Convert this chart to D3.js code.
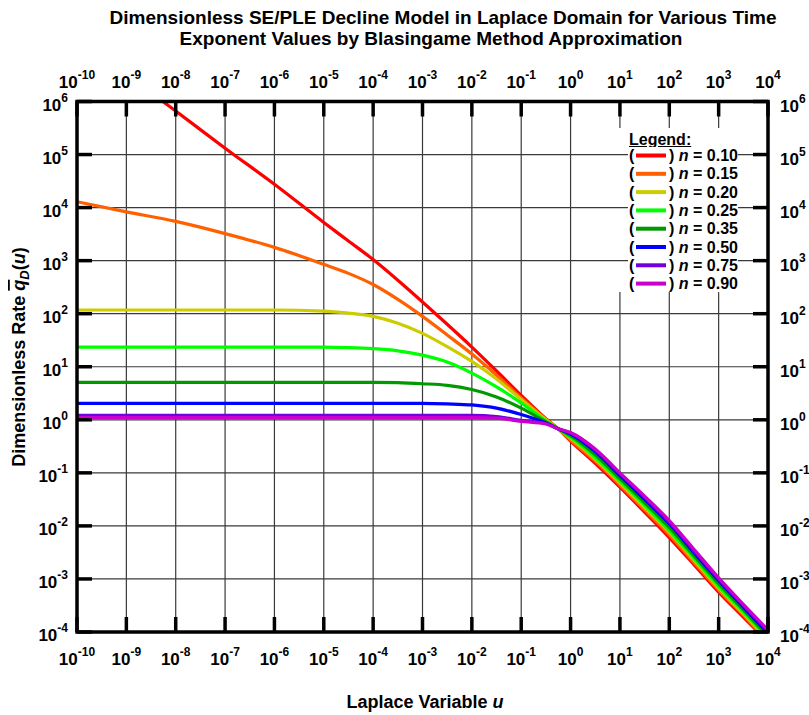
<!DOCTYPE html>
<html>
<head>
<meta charset="utf-8">
<script src="https://cdn.jsdelivr.net/npm/d3@7/dist/d3.min.js"></script>
<style>
  body { margin: 0; background: #fff; }
  text { font-family: "Liberation Sans", Arial, sans-serif; font-weight: bold; fill: #000; }
</style>
</head>
<body>
<div id="chart"></div>
<script>
// Size of the picture
var svgWidth = 809;
var svgHeight = 715;

// Plot frame
var margin = { top: 101.5, right: 41, bottom: 83, left: 77 };
var width = svgWidth - margin.left - margin.right;
var height = svgHeight - margin.top - margin.bottom;

// Decade exponents for the ticks
var xTickExp = d3.range(-10, 5);
var yTickExp = d3.range(-4, 7);

// Laplace variable u (log10) where the curves were read
var logU = [-10, -9, -8, -7, -6, -5, -4.5, -4, -3.5, -3, -2.5, -2, -1.5, -1, -0.5, -0.25, 0, 0.5, 1, 1.5, 2, 2.5, 3, 3.5, 4];
var logURed = [-8.26, -8, -7, -6, -5, -4.5, -4, -3.5, -3, -2.5, -2, -1.5, -1, -0.5, -0.25, 0, 0.5, 1, 1.5, 2, 2.5, 3, 3.5, 3.8];

// Dimensionless rate (log10) for each time exponent n
var qN010 = [6, 5.82, 5.12, 4.44, 3.72, 3.37, 3.02, 2.63, 2.22, 1.80, 1.37, 0.92, 0.46, 0.02, -0.17, -0.40, -0.82, -1.27, -1.74, -2.22, -2.73, -3.25, -3.72, -4.0];
var qN015 = [4.11, 3.92, 3.74, 3.51, 3.25, 2.93, 2.76, 2.55, 2.27, 1.95, 1.60, 1.24, 0.84, 0.41, 0.01, -0.17, -0.38, -0.78, -1.23, -1.70, -2.17, -2.69, -3.21, -3.68, -4.2];
var qN020 = [2.07, 2.07, 2.07, 2.07, 2.07, 2.05, 2.01, 1.95, 1.82, 1.63, 1.38, 1.10, 0.77, 0.38, 0.0, -0.17, -0.35, -0.74, -1.19, -1.65, -2.12, -2.64, -3.17, -3.65, -4.16];
var qN025 = [1.37, 1.37, 1.37, 1.37, 1.37, 1.37, 1.36, 1.34, 1.30, 1.22, 1.09, 0.88, 0.62, 0.32, -0.02, -0.17, -0.33, -0.71, -1.16, -1.61, -2.09, -2.61, -3.14, -3.62, -4.12];
var qN035 = [0.705, 0.705, 0.705, 0.705, 0.705, 0.705, 0.705, 0.705, 0.70, 0.68, 0.65, 0.57, 0.43, 0.22, -0.04, -0.17, -0.30, -0.66, -1.11, -1.56, -2.03, -2.56, -3.09, -3.58, -4.08];
var qN050 = [0.31, 0.31, 0.31, 0.31, 0.31, 0.31, 0.31, 0.31, 0.31, 0.31, 0.30, 0.28, 0.22, 0.10, -0.06, -0.17, -0.27, -0.60, -1.05, -1.50, -1.96, -2.50, -3.03, -3.53, -4.02];
var qN075 = [0.083, 0.083, 0.083, 0.083, 0.083, 0.083, 0.083, 0.083, 0.083, 0.083, 0.083, 0.083, 0.06, -0.01, -0.07, -0.17, -0.25, -0.57, -1.02, -1.46, -1.93, -2.47, -3.00, -3.50, -3.98];
var qN090 = [0.04, 0.04, 0.04, 0.04, 0.04, 0.04, 0.04, 0.04, 0.04, 0.04, 0.04, 0.04, 0.03, -0.03, -0.08, -0.17, -0.24, -0.55, -1.00, -1.44, -1.90, -2.44, -2.98, -3.48, -3.96];

var seriesLabels = ["0.10", "0.15", "0.20", "0.25", "0.35", "0.50", "0.75", "0.90"];
var seriesColors = ["#ff0000", "#ff6000", "#cccc00", "#00ff00", "#009900", "#0000ff", "#7000e0", "#cc00cc"];

var series = [
  { n: seriesLabels[0], color: seriesColors[0], u: logURed, q: qN010 },
  { n: seriesLabels[1], color: seriesColors[1], u: logU, q: qN015 },
  { n: seriesLabels[2], color: seriesColors[2], u: logU, q: qN020 },
  { n: seriesLabels[3], color: seriesColors[3], u: logU, q: qN025 },
  { n: seriesLabels[4], color: seriesColors[4], u: logU, q: qN035 },
  { n: seriesLabels[5], color: seriesColors[5], u: logU, q: qN050 },
  { n: seriesLabels[6], color: seriesColors[6], u: logU, q: qN075 },
  { n: seriesLabels[7], color: seriesColors[7], u: logU, q: qN090 }
];

var svg = d3.select("#chart").append("svg")
  .attr("width", svgWidth)
  .attr("height", svgHeight);

var chartGroup = svg.append("g")
  .attr("transform", `translate(${margin.left}, ${margin.top})`);

var x = d3.scaleLog().domain([1e-10, 1e4]).range([0, width]);
var y = d3.scaleLog().domain([1e-4, 1e6]).range([height, 0]);

// vertical grid
chartGroup.append("g")
  .selectAll("line")
  .data(xTickExp)
  .enter()
  .append("line")
  .attr("x1", d => x(Math.pow(10, d)))
  .attr("x2", d => x(Math.pow(10, d)))
  .attr("y1", 0)
  .attr("y2", height)
  .attr("stroke", "#3a3a3a")
  .attr("stroke-width", 1.2);

// legend background hides the vertical grid
chartGroup.append("rect")
  .attr("x", 615 - margin.left)
  .attr("y", 128 - margin.top)
  .attr("width", 130)
  .attr("height", 164)
  .attr("fill", "#fff");

// horizontal grid
chartGroup.append("g")
  .selectAll("line")
  .data(yTickExp)
  .enter()
  .append("line")
  .attr("x1", 0)
  .attr("x2", width)
  .attr("y1", d => y(Math.pow(10, d)))
  .attr("y2", d => y(Math.pow(10, d)))
  .attr("stroke", "#3a3a3a")
  .attr("stroke-width", 1.2);

// clip for curves
chartGroup.append("clipPath").attr("id", "plotClip")
  .append("rect").attr("width", width).attr("height", height);

var line = d3.line()
  .x(d => x(Math.pow(10, d[0])))
  .y(d => y(Math.pow(10, d[1])))
  .curve(d3.curveMonotoneX);

chartGroup.append("g")
  .attr("clip-path", "url(#plotClip)")
  .selectAll("path")
  .data(series)
  .enter()
  .append("path")
  .attr("d", s => line(s.u.map((u, i) => [u, s.q[i]])))
  .attr("fill", "none")
  .attr("stroke", s => s.color)
  .attr("stroke-width", 3.2);

// major ticks on all four sides
var tickLen = 15;
var ticks = chartGroup.append("g").attr("stroke", "#000").attr("stroke-width", 3.5);
xTickExp.forEach(function(e) {
  var px = x(Math.pow(10, e));
  ticks.append("line").attr("x1", px).attr("x2", px).attr("y1", 0).attr("y2", tickLen);
  ticks.append("line").attr("x1", px).attr("x2", px).attr("y1", height).attr("y2", height - tickLen);
});
yTickExp.forEach(function(e) {
  var py = y(Math.pow(10, e));
  ticks.append("line").attr("x1", 0).attr("x2", tickLen).attr("y1", py).attr("y2", py);
  ticks.append("line").attr("x1", width).attr("x2", width - tickLen).attr("y1", py).attr("y2", py);
});

// frame
chartGroup.append("rect")
  .attr("width", width)
  .attr("height", height)
  .attr("fill", "none")
  .attr("stroke", "#000")
  .attr("stroke-width", 3.5);

// power-of-ten tick labels
function powerLabel(g, px, py, e, anchor) {
  var t = g.append("text")
    .attr("x", px)
    .attr("y", py)
    .attr("text-anchor", anchor)
    .style("font-size", "17px");
  t.append("tspan").text("10");
  t.append("tspan").attr("dy", -9).style("font-size", "12px").text(e);
}

xTickExp.forEach(function(e) {
  var px = margin.left + x(Math.pow(10, e));
  powerLabel(svg, px, 88, e, "middle");
  powerLabel(svg, px, 665, e, "middle");
});
yTickExp.forEach(function(e) {
  var py = margin.top + y(Math.pow(10, e));
  powerLabel(svg, 68, py + 9, e, "end");
  powerLabel(svg, 780, py + 10, e, "start");
});

// title
svg.append("text")
  .attr("x", 443).attr("y", 24)
  .attr("text-anchor", "middle")
  .style("font-size", "19px")
  .text("Dimensionless SE/PLE Decline Model in Laplace Domain for Various Time");
svg.append("text")
  .attr("x", 431).attr("y", 45)
  .attr("text-anchor", "middle")
  .style("font-size", "19px")
  .text("Exponent Values by Blasingame Method Approximation");

// x axis title
var xTitle = svg.append("text")
  .attr("x", 425).attr("y", 708)
  .attr("text-anchor", "middle")
  .style("font-size", "18px");
xTitle.append("tspan").text("Laplace Variable ");
xTitle.append("tspan").style("font-style", "italic").text("u");

// y axis title
var yTitle = svg.append("text")
  .attr("transform", "translate(25, 357) rotate(-90)")
  .attr("text-anchor", "middle")
  .style("font-size", "18px");
yTitle.append("tspan").text("Dimensionless Rate ");
yTitle.append("tspan").style("font-style", "italic").style("text-decoration", "overline").text("q");
yTitle.append("tspan").attr("dy", 4).style("font-style", "italic").style("font-size", "13px").text("D");
yTitle.append("tspan").attr("dy", -4).text("(");
yTitle.append("tspan").style("font-style", "italic").text("u");
yTitle.append("tspan").text(")");

// legend
var legend = svg.append("g");
legend.append("text")
  .attr("x", 629).attr("y", 145)
  .style("font-size", "16px")
  .style("text-decoration", "underline")
  .text("Legend:");

var rowGap = 18.3;
series.forEach(function(s, i) {
  var ry = 161 + i * rowGap;
  legend.append("rect")
    .attr("x", 628).attr("y", ry - 14)
    .attr("width", 110).attr("height", 17)
    .attr("fill", "#fff");
  legend.append("text").attr("x", 629).attr("y", ry).style("font-size", "16px").text("(");
  legend.append("line")
    .attr("x1", 636).attr("x2", 666)
    .attr("y1", ry - 5.5).attr("y2", ry - 5.5)
    .attr("stroke", s.color)
    .attr("stroke-width", 4);
  var t = legend.append("text").attr("x", 669).attr("y", ry).style("font-size", "16px");
  t.append("tspan").text(") ");
  t.append("tspan").style("font-style", "italic").text("n");
  t.append("tspan").text(" = " + s.n);
});
</script>
</body>
</html>
